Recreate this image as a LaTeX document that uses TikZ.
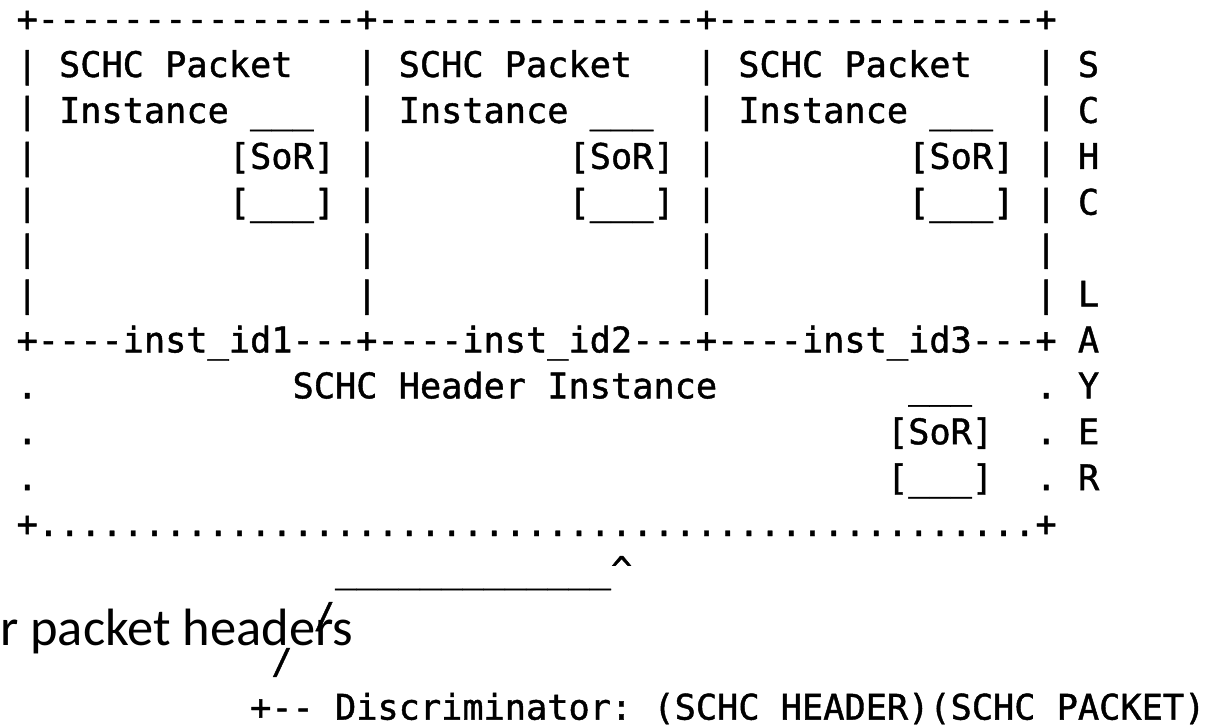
\documentclass[tikz,border=0pt]{standalone}
\usepackage{fontspec}
\newfontfamily\asciifont[FakeBold=1.2]{DejaVu Sans Mono}
\newfontfamily\notefont{Carlito}
\tikzset{
  asc/.style={font=\asciifont\fontsize{35.26}{40}\selectfont, inner sep=0pt, anchor=base west, text=black},
  note/.style={font=\notefont\fontsize{52.5}{60}\selectfont, inner sep=0pt, anchor=base west, text=black}
}
\begin{document}
\begin{tikzpicture}[x=1pt,y=-1pt]
  \clip (0,0) rectangle (1224,728);
  \fill[white] (0,0) rectangle (1224,728);
  % character grid: column c at x = 16.4 + 21.23 c, row r baseline at y = 31.1 + 45.9 r
  % three SCHC packet instances
  \node[asc] (row0) at ({16.4+21.23*0},{31.1+45.9*0}) {+---------------+---------------+---------------+};
  \node[asc] (row1) at ({16.4+21.23*0},{31.1+45.9*1}) {|~SCHC~Packet~~~|~SCHC~Packet~~~|~SCHC~Packet~~~|~S};
  \node[asc] (row2) at ({16.4+21.23*0},{31.1+45.9*2}) {|~Instance~\_\_\_~~|~Instance~\_\_\_~~|~Instance~\_\_\_~~|~C};
  \node[asc] (row3) at ({16.4+21.23*0},{31.1+45.9*3}) {|~~~~~~~~~[SoR]~|~~~~~~~~~[SoR]~|~~~~~~~~~[SoR]~|~H};
  \node[asc] (row4) at ({16.4+21.23*0},{31.1+45.9*4}) {|~~~~~~~~~[\_\_\_]~|~~~~~~~~~[\_\_\_]~|~~~~~~~~~[\_\_\_]~|~C};
  \node[asc] (row5) at ({16.4+21.23*0},{31.1+45.9*5}) {|~~~~~~~~~~~~~~~|~~~~~~~~~~~~~~~|~~~~~~~~~~~~~~~|};
  \node[asc] (row6) at ({16.4+21.23*0},{31.1+45.9*6}) {|~~~~~~~~~~~~~~~|~~~~~~~~~~~~~~~|~~~~~~~~~~~~~~~|~L};
  \node[asc] (row7) at ({16.4+21.23*0},{31.1+45.9*7}) {+----inst\_id1---+----inst\_id2---+----inst\_id3---+~A};
  % SCHC header instance
  \node[asc] (row8a) at ({16.4+21.23*0},{31.1+45.9*8}) {.};
  \node[asc] (row8b) at ({16.4+21.23*13},{31.1+45.9*8}) {SCHC~Header~Instance~~~~~~~~~\_\_\_~~~.~Y};
  \node[asc] (row9a) at ({16.4+21.23*0},{31.1+45.9*9}) {.};
  \node[asc] (row9b) at ({16.4+21.23*41},{31.1+45.9*9}) {[SoR]~~.~E};
  \node[asc] (row10a) at ({16.4+21.23*0},{31.1+45.9*10}) {.};
  \node[asc] (row10b) at ({16.4+21.23*41},{31.1+45.9*10}) {[\_\_\_]~~.~R};
  \node[asc] (row11) at ({16.4+21.23*0},{31.1+45.9*11}) {+...............................................+};
  % discriminator pointer
  \node[asc] (row12) at ({16.4+21.23*15},{31.1+45.9*12}) {\_\_\_\_\_\_\_\_\_\_\_\_\_\textasciicircum};
  \node[note] (upper) at (0,645) {r packet headers};
  \node[asc] (row13) at ({16.4+21.23*14},{31.1+45.9*13}) {/};
  \node[asc] (row14) at ({16.4+21.23*12},{31.1+45.9*14}) {/};
  \node[asc] (row15) at ({16.4+21.23*11},{31.1+45.9*15}) {+--~Discriminator:~(SCHC~HEADER)(SCHC~PACKET)};
\end{tikzpicture}
\end{document}
